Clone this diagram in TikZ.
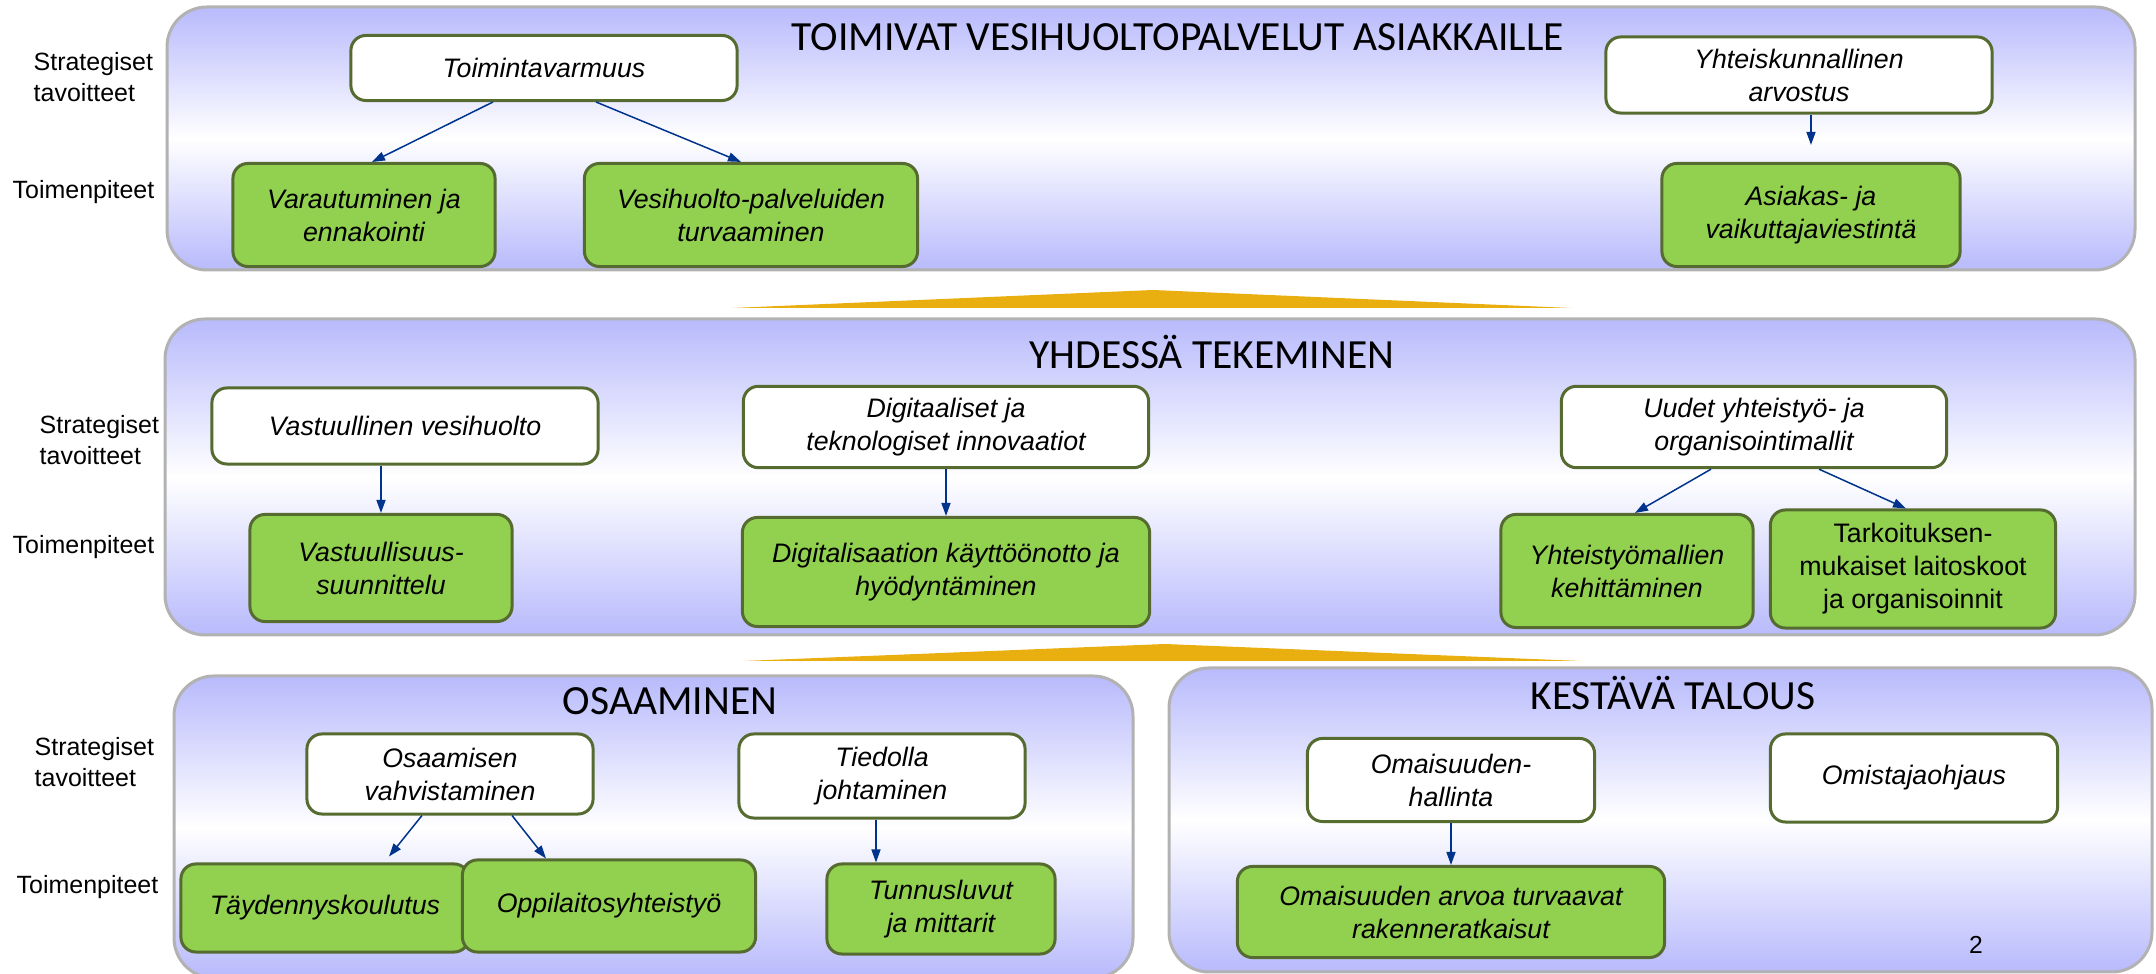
\documentclass[tikz,border=0pt]{standalone}
\usepackage{xcolor}
\usepackage{fontspec}
\setmainfont{Liberation Sans}
\newfontfamily\titlefont{Carlito}
\usepackage{tikz}
\usetikzlibrary{shapes,arrows,positioning,calc,arrows.meta}

\definecolor{panelblue}{RGB}{184,186,252}
\definecolor{panelgray}{RGB}{178,178,178}
\definecolor{boxgreen}{RGB}{146,208,80}
\definecolor{boxedge}{RGB}{85,107,47}
\definecolor{arrowblue}{RGB}{0,51,140}
\definecolor{wedgegold}{RGB}{233,175,16}

\tikzset{
  panel/.style={draw=panelgray, line width=0.03cm, rounded corners=0.4cm,
    top color=panelblue, bottom color=panelblue, middle color=white},
  goal/.style={draw=boxedge, line width=0.03cm, rounded corners=0.15cm, fill=white,
    align=center, font=\fontsize{7.6}{9.4}\selectfont\itshape},
  action/.style={goal, fill=boxgreen},
  side/.style={align=left, anchor=west, inner sep=0pt, font=\fontsize{7.1}{8.6}\selectfont},
  heading/.style={font=\titlefont\fontsize{11.8}{14}\selectfont},
  link/.style={draw=arrowblue, line width=0.015cm, -{Triangle[length=0.13cm,width=0.09cm]}},
}

\begin{document}
\begin{tikzpicture}[x=0.01cm, y=-0.01cm]
    \useasboundingbox (0,0) rectangle (2156,974);

    % Panels
    \draw [panel] (167,7) rectangle (2135,270);
    \draw [panel] (165,319) rectangle (2135,635);
    \draw [panel] (174,676) rectangle (1133,978);
    \draw [panel] (1169,668) rectangle (2152,972);

    % Wedges
    \fill [wedgegold] (732,308) -- (1153,290) -- (1571,308) -- cycle;
    \fill [wedgegold] (743,661) -- (1165,644) -- (1581,661) -- cycle;

    % Toimivat vesihuoltopalvelut
    \node [heading] (t1) at (1178,37) {TOIMIVAT VESIHUOLTOPALVELUT ASIAKKAILLE};
    \node [side] (s1) at (33,77) {Strategiset\\tavoitteet};
    \node [side] (p1) at (12,192) {Toimenpiteet};
    \node [goal, minimum width=3.86cm, minimum height=0.65cm] (toim) at (544,68) {Toimintavarmuus};
    \node [action, minimum width=2.62cm, minimum height=1.03cm] (var) at (364,215) {Varautuminen ja\\ennakointi};
    \node [action, minimum width=3.33cm, minimum height=1.03cm] (vesi) at (751,215) {Vesihuolto-palveluiden\\turvaaminen};
    \node [goal, minimum width=3.86cm, minimum height=0.65cm] (yht) at (1799,75) {Yhteiskunnallinen\\arvostus};
    \node [action, minimum width=2.98cm, minimum height=1.03cm] (asia) at (1811,215) {Asiakas- ja\\vaikuttajaviestintä};
    \draw [link] ([xshift=-0.51cm]toim.south) -- ([xshift=0.08cm]var.north);
    \draw [link] ([xshift=0.52cm]toim.south) -- ([xshift=-0.10cm]vesi.north);
    \draw [link] (yht.south -| asia.north) -- ([yshift=0.17cm]asia.north);

    % Yhdessa tekeminen
    \node [heading] (t2) at (1212,352) {YHDESSÄ TEKEMINEN};
    \node [side] (s2) at (39,440) {Strategiset\\tavoitteet};
    \node [side] (p2) at (12,547) {Toimenpiteet};
    \node [goal, minimum width=3.86cm, minimum height=0.76cm] (vast) at (405,426) {Vastuullinen vesihuolto};
    \node [goal, minimum width=4.05cm, minimum height=0.78cm] (digi) at (946,427) {Digitaaliset ja\\teknologiset innovaatiot};
    \node [goal, minimum width=3.85cm, minimum height=0.77cm] (uud) at (1754,427) {Uudet yhteistyö- ja\\organisointimallit};
    \node [action, minimum width=2.62cm, minimum height=1.07cm] (vsu) at (381,568) {Vastuullisuus-\\suunnittelu};
    \node [action, minimum width=4.07cm, minimum height=1.09cm] (dk) at (946,572) {Digitalisaation käyttöönotto ja\\hyödyntäminen};
    \node [action, minimum width=2.52cm, minimum height=1.13cm] (yk) at (1627,571) {Yhteistyömallien\\kehittäminen};
    \node [action, minimum width=2.85cm, minimum height=1.18cm, font=\fontsize{7.6}{9.4}\selectfont] (tark) at (1913,569) {Tarkoituksen-\\mukaiset laitoskoot\\ja organisoinnit};
    \draw [link] (vast.south -| vsu.north) -- (vsu.north);
    \draw [link] (digi.south) -- (dk.north);
    \draw [link] ([xshift=-0.43cm]uud.south) -- ([xshift=0.08cm]yk.north);
    \draw [link] ([xshift=0.65cm]uud.south) -- ([xshift=-0.07cm]tark.north);

    % Osaaminen
    \node [heading] (t3) at (670,701) {OSAAMINEN};
    \node [side] (s3) at (34,762) {Strategiset\\tavoitteet};
    \node [side] (p3) at (16,887) {Toimenpiteet};
    \node [goal, minimum width=2.86cm, minimum height=0.80cm] (osv) at (450,774) {Osaamisen\\vahvistaminen};
    \node [goal, minimum width=2.86cm, minimum height=0.84cm] (tj) at (882,776) {Tiedolla\\johtaminen};
    \node [action, minimum width=2.88cm, minimum height=0.88cm] (tk) at (325,908) {Täydennyskoulutus};
    \node [action, minimum width=2.93cm, minimum height=0.92cm] (oy) at (609,906) {Oppilaitosyhteistyö};
    \node [action, minimum width=2.28cm, minimum height=0.90cm] (tm) at (941,909) {Tunnusluvut\\ja mittarit};
    \draw [link] ([xshift=-0.28cm]osv.south) -- ([xshift=0.64cm,yshift=0.06cm]tk.north);
    \draw [link] ([xshift=0.62cm]osv.south) -- ([xshift=-0.63cm]oy.north);
    \draw [link] ([xshift=-0.06cm]tj.south) -- ([xshift=-0.06cm]tj.south |- tm.north);

    % Kestava talous
    \node [heading] (t4) at (1673,693) {KESTÄVÄ TALOUS};
    \node [goal, minimum width=2.87cm, minimum height=0.83cm] (oh) at (1451,780) {Omaisuuden-\\hallinta};
    \node [goal, minimum width=2.87cm, minimum height=0.88cm] (oo) at (1914,778) {Omistajaohjaus};
    \node [action, minimum width=4.27cm, minimum height=0.91cm] (ort) at (1451,912) {Omaisuuden arvoa turvaavat\\rakenneratkaisut};
    \draw [link] (oh.south) -- (ort.north);
    \node [font=\fontsize{7}{8}\selectfont] (page) at (1976,945) {2};
\end{tikzpicture}
\end{document}
